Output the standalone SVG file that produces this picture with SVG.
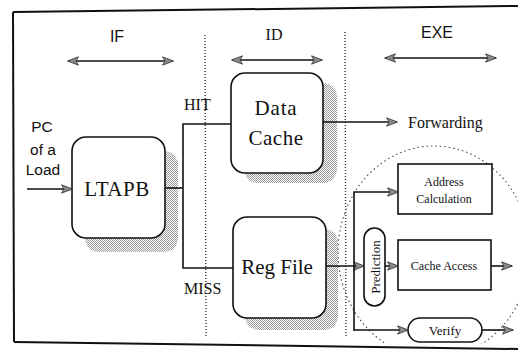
<svg xmlns="http://www.w3.org/2000/svg" width="518" height="352" viewBox="0 0 518 352">
  <defs>
    <pattern id="stip" width="2" height="2" patternUnits="userSpaceOnUse">
      <rect x="0" y="0" width="1" height="1" fill="#9a9a9a"/>
      <rect x="1" y="1" width="1" height="1" fill="#9a9a9a"/>
    </pattern>
    <marker id="ah" viewBox="0 0 12 10" refX="11" refY="5" markerWidth="12" markerHeight="10" markerUnits="userSpaceOnUse" orient="auto-start-reverse">
      <path d="M0.5,0.8 L11.5,5 L0.5,9.2 L3,5 z" fill="#8a8a8a" stroke="#333" stroke-width="0.8"/>
    </marker>
    <clipPath id="frameClip">
      <rect x="14" y="10" width="504" height="334"/>
    </clipPath>
    <style>
      .box { fill: #fff; stroke: #111; stroke-width: 1.6; }
      .shadow { fill: url(#stip); }
      .wire { fill: none; stroke: #111; stroke-width: 1.6; }
      .arr { marker-end: url(#ah); }
      .dbl { marker-start: url(#ah); marker-end: url(#ah); }
      .sep { fill: none; stroke: #333; stroke-width: 1.4; stroke-dasharray: 1 2; }
      .sans { font-family: "Liberation Sans", Arial, sans-serif; fill: #111; }
      .serif { font-family: "Liberation Serif", "Times New Roman", "DejaVu Serif", serif; fill: #111; }
      .frame { stroke: #111; stroke-width: 2; fill: none; }
    </style>
  </defs>
  <rect width="518" height="352" fill="#fff"/>

  <!-- frame -->
  <g id="frame">
    <path class="frame" d="M13,12 L518,6"/>
    <path class="frame" d="M14,342 L518,349"/>
    <path class="frame" d="M13,12 L14,342"/>
  </g>

  <!-- stage separators and circle -->
  <g id="separators">
    <line class="sep" x1="205" y1="35" x2="206" y2="338"/>
    <line class="sep" x1="345" y1="32" x2="346" y2="338"/>
    <ellipse cx="434" cy="252" rx="96" ry="106" fill="none" stroke="#444" stroke-width="1.1" stroke-dasharray="1.5 3" clip-path="url(#frameClip)"/>
  </g>

  <!-- stage labels -->
  <g id="stages">
    <text class="sans" x="117" y="42" font-size="16" text-anchor="middle">IF</text>
    <text class="serif" font-family="Liberation Serif, serif" x="274" y="40" font-size="16" text-anchor="middle">ID</text>
    <text class="sans" x="437" y="38" font-size="16" text-anchor="middle">EXE</text>
  </g>

  <g id="pc-label">
    <text class="sans" x="42" y="132" font-size="15.5" text-anchor="middle">PC</text>
    <text class="sans" x="43" y="155" font-size="15.5" text-anchor="middle">of a</text>
    <text class="sans" x="43" y="175" font-size="15.5" text-anchor="middle">Load</text>
  </g>

  <!-- nodes -->
  <g id="ltapb">
    <rect class="shadow" x="85" y="151" width="93" height="101" rx="14"/>
    <rect class="box" x="72" y="137" width="93" height="101" rx="14"/>
    <text class="serif" font-family="Liberation Serif, serif" x="117" y="196" font-size="21" text-anchor="middle" letter-spacing="0.5">LTAPB</text>
  </g>

  <g id="data-cache">
    <rect class="shadow" x="244" y="83" width="93" height="100" rx="14"/>
    <rect class="box" x="231" y="73" width="92" height="100" rx="14"/>
    <text class="serif" font-family="Liberation Serif, serif" x="276" y="115" font-size="21" text-anchor="middle" letter-spacing="0.8">Data</text>
    <text class="serif" font-family="Liberation Serif, serif" x="276" y="145" font-size="21" text-anchor="middle" letter-spacing="0.5">Cache</text>
  </g>

  <g id="reg-file">
    <rect class="shadow" x="245" y="229" width="93" height="101" rx="14"/>
    <rect class="box" x="233" y="217" width="93" height="101" rx="14"/>
    <text class="serif" font-family="Liberation Serif, serif" x="277" y="274" font-size="21" text-anchor="middle">Reg File</text>
  </g>

  <g id="address-calc">
    <rect class="box" x="398" y="164" width="94" height="50"/>
    <text class="serif" x="444" y="186" font-size="12" text-anchor="middle">Address</text>
    <text class="serif" x="444" y="203" font-size="12" text-anchor="middle">Calculation</text>
  </g>

  <g id="cache-access">
    <rect class="box" x="398" y="240" width="93" height="50"/>
    <text class="serif" x="444" y="270" font-size="12" text-anchor="middle">Cache Access</text>
  </g>

  <g id="prediction">
    <rect class="box" x="364" y="228" width="21" height="78" rx="10.5"/>
    <text class="serif" font-size="13" text-anchor="middle" transform="translate(379.5,267) rotate(-90)">Prediction</text>
  </g>

  <g id="verify">
    <rect class="box" x="408" y="318" width="74" height="24" rx="12"/>
    <text class="serif" x="445" y="335" font-size="13" text-anchor="middle">Verify</text>
  </g>

  <!-- connectors -->
  <g id="connectors">
    <line class="wire dbl" x1="68" y1="61" x2="173" y2="61"/>
    <line class="wire dbl" x1="232" y1="60" x2="322" y2="60"/>
    <line class="wire dbl" x1="385" y1="58" x2="496" y2="58"/>

    <line class="wire arr" x1="27" y1="189" x2="72" y2="189"/>
    <polyline class="wire" points="165,188 183,188"/>
    <polyline class="wire" points="231,124 183,124 183,268 233,268"/>

    <line class="wire arr" x1="323" y1="122" x2="397" y2="122"/>

    <line class="wire arr" x1="326" y1="266" x2="364" y2="266"/>
    <polyline class="wire arr" points="354,331 354,192 398,192"/>
    <polyline class="wire arr" points="354,330 408,330"/>
    <line class="wire arr" x1="385" y1="266" x2="398" y2="266"/>
    <line class="wire arr" x1="491" y1="266" x2="512" y2="266"/>
    <line class="wire arr" x1="482" y1="330" x2="513" y2="330"/>
  </g>

  <!-- connector labels -->
  <g id="labels">
    <text class="serif" x="184" y="110" font-size="16">HIT</text>
    <text class="serif" x="184" y="294" font-size="16">MISS</text>
    <text class="serif" x="408" y="128" font-size="16">Forwarding</text>
  </g>
</svg>
